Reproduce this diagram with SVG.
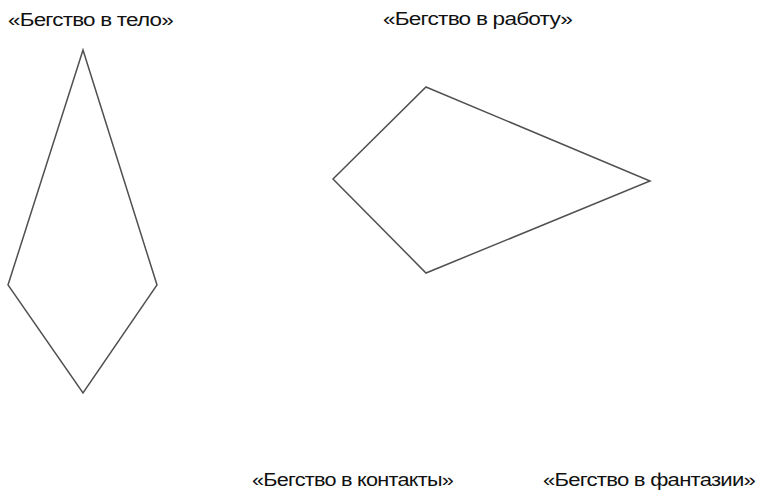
<svg xmlns="http://www.w3.org/2000/svg" width="760" height="496" viewBox="0 0 760 496">
<style>
.lbl{font-family:"Liberation Sans",Arial,sans-serif;font-size:17.5px;fill:#111;letter-spacing:-0.6px}
.shape{fill:none;stroke:#505050;stroke-width:1.5;stroke-linejoin:miter}
</style>
<rect width="760" height="496" fill="#fff"/>
<g id="body">
<polygon class="shape" points="83,50 157,285 83,393 8,285"/>
</g>
<g id="work">
<polygon class="shape" points="426,87 650,181 426,273 333,179"/>
</g>
<g id="connectors"></g>
<g id="labels">
<text id="lbl-body" class="lbl" x="8" y="26" textLength="165" lengthAdjust="spacingAndGlyphs">«Бегство в тело»</text>
<text id="lbl-work" class="lbl" x="383" y="25" textLength="189" lengthAdjust="spacingAndGlyphs">«Бегство в работу»</text>
<text id="lbl-contacts" class="lbl" x="252" y="486" textLength="201" lengthAdjust="spacingAndGlyphs">«Бегство в контакты»</text>
<text id="lbl-fantasy" class="lbl" x="543" y="486" textLength="212" lengthAdjust="spacingAndGlyphs">«Бегство в фантазии»</text>
</g>
</svg>
